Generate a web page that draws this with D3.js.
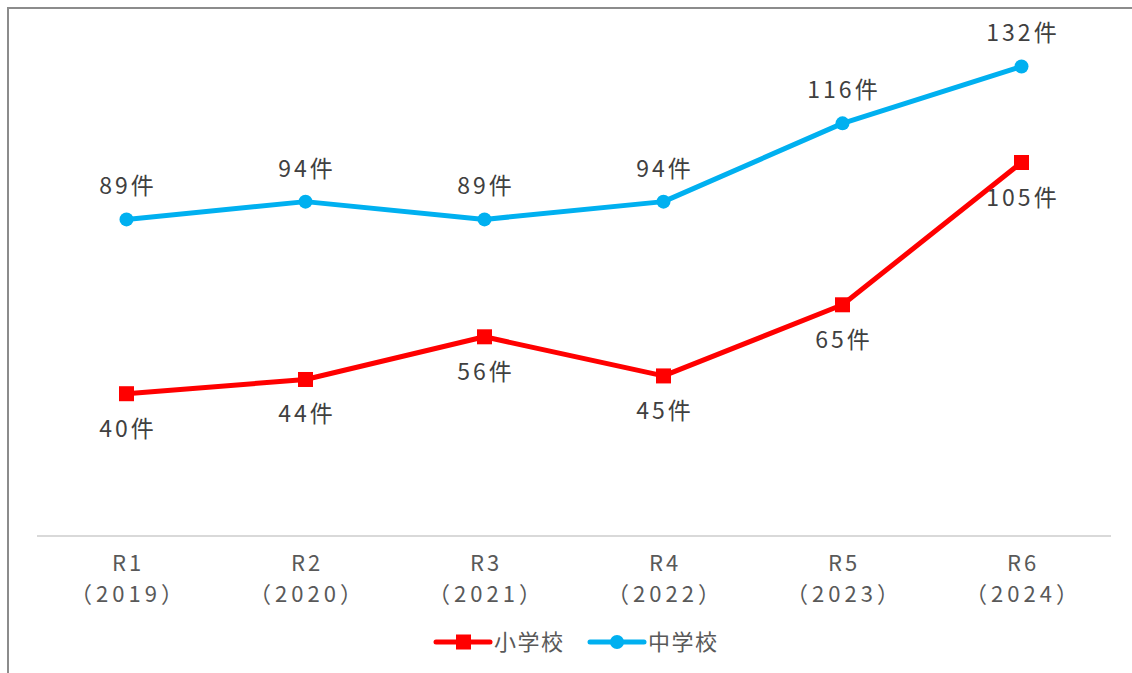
<!DOCTYPE html>
<html>
<head>
<meta charset="utf-8">
<script src="https://cdn.jsdelivr.net/npm/d3@7"></script>
<style>
  body { margin: 0; background: #fff; }
  text { font-family: "Noto Sans CJK JP", "Noto Sans", sans-serif; }
</style>
</head>
<body>
<div id="canvas"></div>
<script>
var years = ['R1', 'R2', 'R3', 'R4', 'R5', 'R6'];
var yearsAD = ['（2019）', '（2020）', '（2021）', '（2022）', '（2023）', '（2024）'];
var elementary = [40, 44, 56, 45, 65, 105];
var juniorHigh = [89, 94, 89, 94, 116, 132];
var seriesNames = ['小学校', '中学校'];

var W = 1132, H = 673;
var m = {t: 38, r: 21, b: 137, l: 37};
var w = W - m.l - m.r, h = H - m.t - m.b;

var svg = d3.select('#canvas')
  .append('svg')
  .attr('width', W)
  .attr('height', H);

// frame, only top/left visible
svg.append('rect')
  .attr('x', 8).attr('y', 8)
  .attr('width', W + 20).attr('height', H + 20)
  .attr('fill', 'none')
  .attr('stroke', '#8c8c8c')
  .attr('stroke-width', 2);

var plot = svg.append('g')
  .attr('transform', 'translate(' + m.l + ',' + m.t + ')');

var x = d3.scaleBand().domain(years).range([0, w]);
var y = d3.scaleLinear().domain([0, 140]).range([h, 0]);

var cx = function(i) { return x(years[i]) + x.bandwidth() / 2; };

// baseline
plot.append('line')
  .attr('x1', 0).attr('x2', w)
  .attr('y1', y(0)).attr('y2', y(0))
  .attr('stroke', '#d9d9d9')
  .attr('stroke-width', 2);

// category labels
var xLab = plot.append('g').selectAll('text')
  .data(years)
  .enter().append('text')
  .attr('text-anchor', 'middle')
  .attr('fill', '#595959')
  .style('font-size', '22px');
xLab.append('tspan')
  .attr('x', function(d, i) { return cx(i) + 1.5; })
  .attr('y', y(0) + 35)
  .style('letter-spacing', '3px')
  .text(function(d) { return d; });
xLab.append('tspan')
  .attr('x', function(d, i) { return cx(i) + 2; })
  .attr('y', y(0) + 66)
  .style('letter-spacing', '4px')
  .text(function(d, i) { return yearsAD[i]; });

var line = d3.line()
  .x(function(d, i) { return cx(i); })
  .y(function(d) { return y(d); });

// 中学校 (blue)
plot.append('path')
  .datum(juniorHigh)
  .attr('d', line)
  .attr('fill', 'none')
  .attr('stroke', '#00b0f0')
  .attr('stroke-width', 5)
  .attr('stroke-linejoin', 'round');

plot.selectAll('.dotB')
  .data(juniorHigh)
  .enter().append('circle')
  .attr('class', 'dotB')
  .attr('cx', function(d, i) { return cx(i); })
  .attr('cy', function(d) { return y(d); })
  .attr('r', 7)
  .attr('fill', '#00b0f0');

// 小学校 (red)
plot.append('path')
  .datum(elementary)
  .attr('d', line)
  .attr('fill', 'none')
  .attr('stroke', '#ff0000')
  .attr('stroke-width', 5)
  .attr('stroke-linejoin', 'round');

plot.selectAll('.dotR')
  .data(elementary)
  .enter().append('rect')
  .attr('class', 'dotR')
  .attr('x', function(d, i) { return cx(i) - 7.5; })
  .attr('y', function(d) { return y(d) - 7.5; })
  .attr('width', 15)
  .attr('height', 15)
  .attr('fill', '#ff0000');

// data labels
plot.selectAll('.labB')
  .data(juniorHigh)
  .enter().append('text')
  .attr('class', 'labB')
  .attr('x', function(d, i) { return cx(i) + 1.5; })
  .attr('y', function(d) { return y(d) - 25; })
  .attr('text-anchor', 'middle')
  .attr('fill', '#404040')
  .style('font-size', '23px')
  .style('letter-spacing', '3px')
  .text(function(d) { return d + '件'; });

plot.selectAll('.labR')
  .data(elementary)
  .enter().append('text')
  .attr('class', 'labR')
  .attr('x', function(d, i) { return cx(i) + 1.5; })
  .attr('y', function(d) { return y(d) + 43; })
  .attr('text-anchor', 'middle')
  .attr('fill', '#404040')
  .style('font-size', '23px')
  .style('letter-spacing', '3px')
  .text(function(d) { return d + '件'; });

// legend
var legend = svg.append('g').attr('transform', 'translate(0,' + 642 + ')');
var legItems = [
  {name: seriesNames[0], color: '#ff0000', x: 436, shape: 'rect'},
  {name: seriesNames[1], color: '#00b0f0', x: 590, shape: 'circle'}
];
legItems.forEach(function(it) {
  var g = legend.append('g').attr('transform', 'translate(' + it.x + ',0)');
  g.append('line')
    .attr('x1', 0).attr('x2', 54)
    .attr('y1', 0).attr('y2', 0)
    .attr('stroke', it.color)
    .attr('stroke-width', 5)
    .attr('stroke-linecap', 'round');
  if (it.shape === 'rect') {
    g.append('rect')
      .attr('x', 20).attr('y', -7.5)
      .attr('width', 15).attr('height', 15)
      .attr('fill', it.color);
  } else {
    g.append('circle')
      .attr('cx', 27).attr('cy', 0).attr('r', 7)
      .attr('fill', it.color);
  }
  g.append('text')
    .attr('x', 58)
    .attr('y', 8)
    .attr('fill', '#595959')
    .style('font-size', '22px')
    .style('letter-spacing', '1.5px')
    .text(it.name);
});
</script>
</body>
</html>
